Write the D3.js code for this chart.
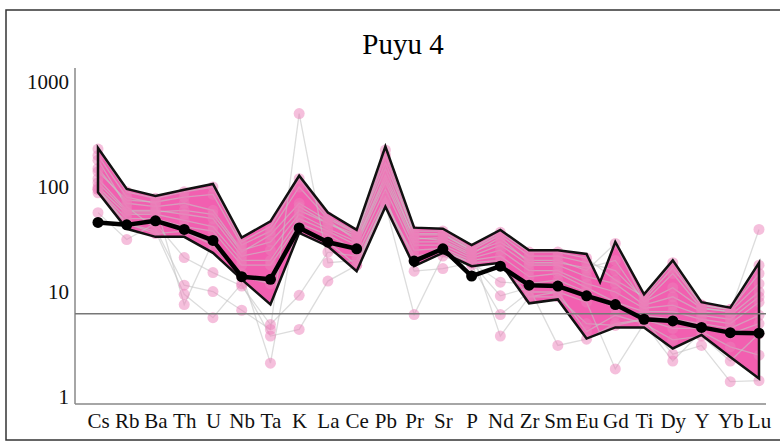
<!DOCTYPE html>
<html>
<head>
<meta charset="utf-8">
<script src="https://cdn.jsdelivr.net/npm/d3@7"></script>
<style>
  body { margin: 0; background: #fff; }
  svg { display: block; }
</style>
</head>
<body>
<div id="chart"></div>
<script>
// elements on the x axis
var elements = ["Cs","Rb","Ba","Th","U","Nb","Ta","K","La","Ce","Pb","Pr","Sr","P","Nd","Zr","Sm","Eu","Gd","Ti","Dy","Y","Yb","Lu"];

// pink field (upper / lower boundary)
var fieldUpper = [235, 96, 82, 94, 107, 33, 47, 128, 57, 39, 243, 41, 40, 28, 39, 25, 25, 23, 30, 9.5, 20, 8.0, 7.1, 19];
var fieldLower = [89, 40, 33.5, 33.5, 23.6, 13.2, 7.6, 36.6, 27.3, 15.8, 65, 17.6, 23.6, 17.6, 19, 7.8, 8.5, 3.6, 4.6, 4.6, 2.9, 3.9, 2.4, 1.5];
// extra kink on the upper boundary between Eu and Gd (position in element index units)
var fieldUpperKinkAt = [17.47];
var fieldUpperKinkValue = [12.4];

// black reference line (no Pb value)
var refLine = [46, 43.6, 47.6, 39.4, 31, 14, 13.2, 40.8, 29.8, 25.8, null, 19.7, 25.8, 14.2, 17.6, 11.6, 11.4, 9.2, 7.6, 5.5, 5.3, 4.6, 4.1, 4.05];

// samples
var samples = [
  [230, 90, 78, 90, 100, 30, 42, 120, 52, 37, 225, 38, 38, 26, 37, 24, 24, 21, 13, 9, 19, 7.5, 6.8, 18],
  [150, 70, 65, 70, 60, 25, 30, 60, 45, 33, 150, 32, 33, 24, 30, 20, 20, 16, 29, 8, 11, 7, 6.5, 12],
  [120, 60, 60, 55, 50, 22, 25, 55, 40, 30, 120, 30, 30, 22, 28, 18, 18, 14, 12, 7.5, 9, 6.5, 6, 10],
  [100, 55, 55, 48, 42, 20, 20, 50, 38, 28, 110, 28, 28, 21, 25, 16, 16, 12, 10, 7, 7.5, 6, 5.5, 9],
  [95, 50, 50, 42, 38, 18, 18, 45, 35, 25, 95, 25, 26, 20, 22, 14, 15, 11, 8, 6.5, 6.5, 5.5, 5, 8],
  [57, 31.6, 45, 21.3, 15.3, 11.4, 4.9, 9.3, 24, 22, 80, 15.8, 16.7, 19, 12.4, 12, 13, 10, 7, 6, 5.5, 5, 4.5, 6],
  [180, 65, 40, 11.6, 10.1, 6.7, 4.4, 500, 19, 20, 70, 22, 24, 19, 9.2, 11, 3.1, 3.55, 5, 5.5, 4.5, 4.5, 4, 5],
  [88, 45, 38, 9.5, 5.7, 12, 3.8, 4.4, 12.7, 18, 68, 6.1, 22, 18, 6.1, 10, 10, 8, 1.85, 5, 3.5, 3.8, 2.2, 4],
  [200, 80, 70, 7.6, 30, 15, 2.1, 65, 45, 35, 200, 35, 35, 25, 3.8, 9, 9, 5, 4.8, 5.5, 2.56, 3.1, 1.4, 1.43],
  [110, 58, 58, 60, 55, 24, 35, 70, 48, 31, 130, 33, 31, 23, 33, 19, 19, 17, 20, 8, 15, 7, 6.5, 39.4],
  [95, 45, 36, 38, 28, 14, 12, 40, 30, 18, 75, 20, 25, 19, 20, 9, 10, 4.2, 6, 5, 2.2, 4.2, 3, 2.5],
  [140, 75, 72, 80, 85, 28, 38, 100, 50, 36, 170, 36, 36, 25, 35, 22, 22, 19, 16, 8.5, 17, 7.5, 6.8, 15]
];

var yTicks = [1, 10, 100, 1000];
var baseLevel = 6.2;  // grey horizontal line

var w = 780, h = 442;
var plotLeft = 75, plotRight = 766, plotBottom = 404;

var svg = d3.select("#chart").append("svg")
  .attr("width", w)
  .attr("height", h);

// outer frame
svg.append("rect")
  .attr("x", 6).attr("y", 10)
  .attr("width", 800).attr("height", 430)
  .attr("fill", "none")
  .attr("stroke", "#333")
  .attr("stroke-width", 1.5);

var x = d3.scalePoint().domain(elements).range([98, 759]);
// same positions, by element index (for the kink)
var xi = d3.scaleLinear().domain([0, elements.length - 1]).range(x.range());
var y = d3.scaleLog().domain([1, 1000]).range([397, 82]);

svg.append("text")
  .attr("x", 403).attr("y", 54)
  .attr("text-anchor", "middle")
  .style("font-family", "Liberation Serif, serif")
  .style("font-size", "29px")
  .text("Puyu 4");

// axes (labels only, lines drawn below)
var yAxis = svg.append("g")
  .attr("transform", "translate(" + plotLeft + ",0)")
  .call(d3.axisLeft(y).tickValues(yTicks).tickFormat(d3.format("d")).tickSize(0).tickPadding(6));
yAxis.select(".domain").remove();

var xAxis = svg.append("g")
  .attr("transform", "translate(0," + plotBottom + ")")
  .call(d3.axisBottom(x).tickSize(0).tickPadding(9));
xAxis.select(".domain").remove();

svg.selectAll(".tick text")
  .style("font-family", "Liberation Serif, serif")
  .style("font-size", "21px")
  .attr("fill", "#111");

// field boundary as [index, value] points
var upperPts = elements.map(function(e, i) { return [i, fieldUpper[i]]; });
fieldUpperKinkAt.forEach(function(p, k) { upperPts.push([p, fieldUpperKinkValue[k]]); });
upperPts.sort(function(a, b) { return a[0] - b[0]; });
var lowerPts = elements.map(function(e, i) { return [i, fieldLower[i]]; });
var ring = upperPts.concat(lowerPts.slice().reverse());

var ringLine = d3.line()
  .x(function(d) { return xi(d[0]); })
  .y(function(d) { return y(d[1]); })
  .curve(d3.curveLinearClosed);

svg.append("path")
  .datum(ring)
  .attr("d", ringLine)
  .attr("fill", "#f25fb0");

// samples
var line = d3.line()
  .defined(function(d) { return d[1] != null; })
  .x(function(d) { return x(d[0]); })
  .y(function(d) { return y(d[1]); });

samples.forEach(function(s) {
  var pts = elements.map(function(e, i) { return [e, s[i]]; });
  svg.append("path")
    .datum(pts)
    .attr("d", line)
    .attr("fill", "none")
    .attr("stroke", "#c4c4c4")
    .attr("stroke-opacity", 0.6)
    .attr("stroke-width", 1.3);
});

samples.forEach(function(s) {
  svg.selectAll(null)
    .data(elements.map(function(e, i) { return [e, s[i]]; }).filter(function(d) { return d[1] != null; }))
    .enter()
    .append("circle")
    .attr("cx", function(d) { return x(d[0]); })
    .attr("cy", function(d) { return y(d[1]); })
    .attr("r", 5.5)
    .attr("fill", "#ec7fba")
    .attr("fill-opacity", 0.5);
});

// field outline on top
svg.append("path")
  .datum(ring)
  .attr("d", ringLine)
  .attr("fill", "none")
  .attr("stroke", "#111")
  .attr("stroke-width", 2.5)
  .attr("stroke-linejoin", "miter");

// axis lines and base level
svg.append("line")
  .attr("x1", plotLeft).attr("x2", plotLeft)
  .attr("y1", 68).attr("y2", plotBottom)
  .attr("stroke", "#888").attr("stroke-width", 1.5);
svg.append("line")
  .attr("x1", plotLeft).attr("x2", plotRight)
  .attr("y1", plotBottom).attr("y2", plotBottom)
  .attr("stroke", "#888").attr("stroke-width", 1.5);
svg.append("line")
  .attr("x1", plotLeft).attr("x2", plotRight)
  .attr("y1", y(baseLevel)).attr("y2", y(baseLevel))
  .attr("stroke", "#777").attr("stroke-width", 1.5);

// black reference line
var refPts = elements.map(function(e, i) { return [e, refLine[i]]; });
svg.append("path")
  .datum(refPts)
  .attr("d", line)
  .attr("fill", "none")
  .attr("stroke", "#000")
  .attr("stroke-width", 4.5)
  .attr("stroke-linejoin", "round");

svg.selectAll(".refdot")
  .data(refPts.filter(function(d) { return d[1] != null; }))
  .enter()
  .append("circle")
  .attr("class", "refdot")
  .attr("cx", function(d) { return x(d[0]); })
  .attr("cy", function(d) { return y(d[1]); })
  .attr("r", 5.5)
  .attr("fill", "#000");
</script>
</body>
</html>
